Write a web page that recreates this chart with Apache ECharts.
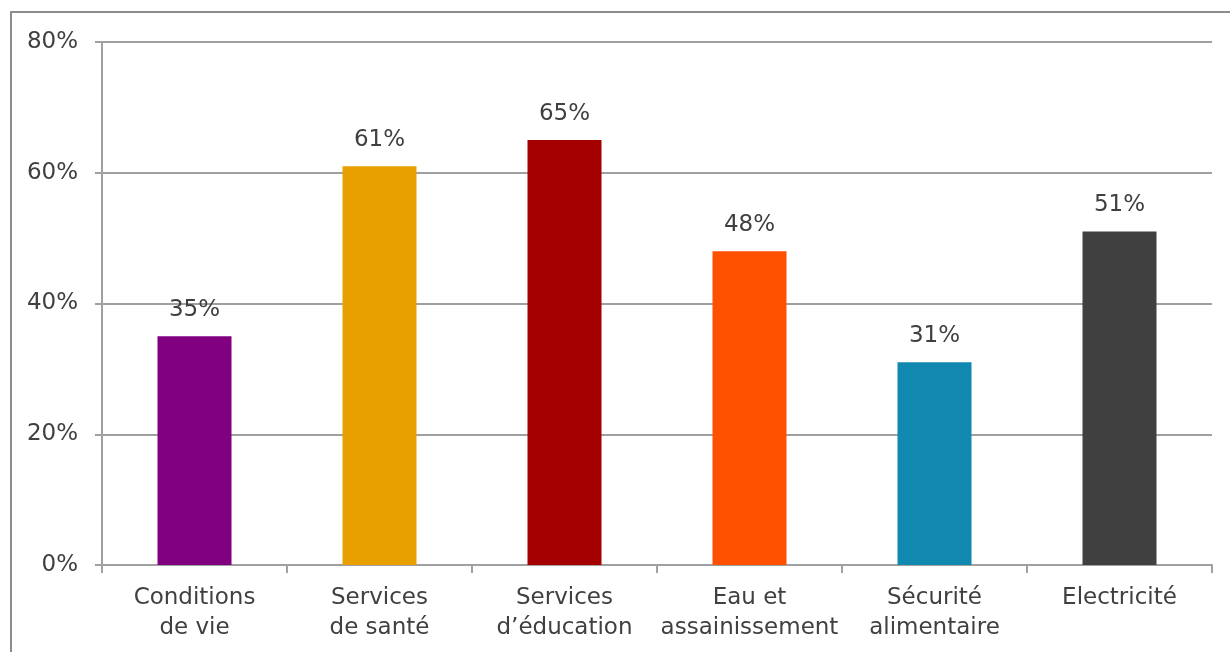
<!DOCTYPE html>
<html><head><meta charset="utf-8">
<script src="https://cdn.jsdelivr.net/npm/echarts@6/dist/echarts.min.js"></script>
<style>html,body{margin:0;padding:0;background:#fff}#c{width:1230px;height:652px}</style>
</head><body><div id="c"></div>
<script>
const categories = ['Conditions\nde vie', 'Services\nde santé', 'Services\nd\u2019éducation', 'Eau et\nassainissement', 'Sécurité\nalimentaire', 'Electricité'];
const values = [35, 61, 65, 48, 31, 51];
const barColors = ['#800080', '#E89F00', '#A50000', '#FF5000', '#1188B0', '#404040'];
const yTicks = [0, 20, 40, 60, 80];

const font = '"DejaVu Sans", sans-serif';
const chart = echarts.init(document.getElementById('c'), null, {renderer: 'canvas'});
chart.setOption({
  animation: false,
  graphic: [{
    type: 'rect', shape: {x: 11, y: 12, width: 1300, height: 700},
    style: {fill: 'none', stroke: '#8c8c8c', lineWidth: 2}, silent: true, z: -1
  }],
  grid: {left: 102, right: 18, top: 42, bottom: 87},
  xAxis: {
    type: 'category', data: categories,
    axisLine: {lineStyle: {color: '#a0a0a0', width: 2}},
    axisTick: {show: true, interval: 0, length: 8, lineStyle: {color: '#a0a0a0', width: 2}},
    axisLabel: {interval: 0, color: '#404040', fontSize: 23, fontFamily: font, lineHeight: 30, margin: 18}
  },
  yAxis: {
    type: 'value', min: yTicks[0], max: yTicks[yTicks.length - 1], interval: 20,
    axisLine: {show: true, lineStyle: {color: '#a0a0a0', width: 2}},
    axisTick: {show: true, length: 7, lineStyle: {color: '#a0a0a0', width: 2}},
    splitLine: {lineStyle: {color: '#a0a0a0', width: 2}},
    axisLabel: {color: '#404040', fontSize: 23, fontFamily: font, margin: 24, formatter: v => v + '%'}
  },
  series: [{
    type: 'bar', barWidth: '40%',
    data: values.map((v, i) => ({value: v, itemStyle: {color: barColors[i]}})),
    label: {show: true, position: 'top', distance: 15, color: '#404040', fontSize: 23, fontFamily: font, formatter: p => p.value + '%'}
  }]
});
</script></body></html>
